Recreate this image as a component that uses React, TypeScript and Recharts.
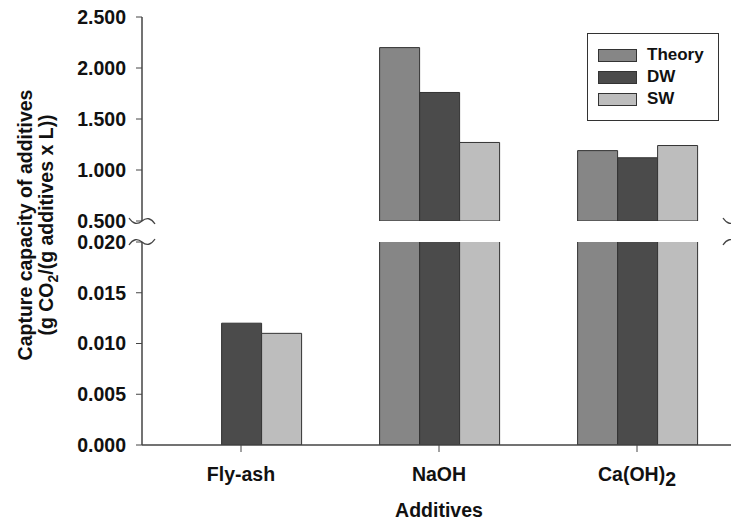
import React from "react";
import { BarChart, Bar, XAxis, YAxis, Legend } from "recharts";

// Chart data
const categories = ["Fly-ash", "NaOH", "Ca(OH)2"];
const theory = [null, 2.2, 1.19];
const dw = [0.012, 1.76, 1.12];
const sw = [0.011, 1.27, 1.24];
const seriesNames = ["Theory", "DW", "SW"];
const upperTicks = [0.5, 1.0, 1.5, 2.0, 2.5];
const lowerTicks = [0, 0.005, 0.01, 0.015, 0.02];

const COLORS = ["#868686", "#4b4b4b", "#bdbdbd"];
const EDGE = "#333333";
const AXIS = "#444444";
const FONT = "'Liberation Sans', Arial, Helvetica, sans-serif";
const BREAK = 0.5;

const rows = categories.map((name, i) => ({
  name,
  Theory: theory[i],
  DW: dw[i],
  SW: sw[i],
}));

// the upper panel only holds what is above the axis break
const above = (v: number | null) => (v != null && v >= BREAK ? v : null);
const upperRows = rows.map(r => ({
  name: r.name,
  Theory: above(r.Theory),
  DW: above(r.DW),
  SW: above(r.SW),
}));

const tickStyle = { fontSize: 19.5, fontWeight: "bold", fill: "#111", fontFamily: FONT };

const CategoryTick = (props: any) => {
  const { x, y, payload } = props;
  const m = /^(.*?)(\d)$/.exec(payload.value);
  return (
    <text x={x} y={y} dy="0.71em" textAnchor="middle" {...tickStyle}>
      {m ? (
        <>
          {m[1]}
          <tspan dy={5}>{m[2]}</tspan>
        </>
      ) : (
        payload.value
      )}
    </text>
  );
};

const renderLegend = () => (
  <div
    style={{
      boxSizing: "border-box",
      width: 132,
      height: 88,
      border: `1.5px solid ${EDGE}`,
      background: "#fff",
      paddingTop: 10,
      fontFamily: FONT,
    }}
  >
    {seriesNames.map((s, i) => (
      <div key={s} style={{ display: "flex", alignItems: "center", height: 22 }}>
        <div
          style={{
            boxSizing: "border-box",
            marginLeft: 10,
            width: 39,
            height: 13,
            background: COLORS[i],
            border: `1.5px solid ${EDGE}`,
          }}
        />
        <span style={{ marginLeft: 10, fontSize: 17, fontWeight: "bold", color: "#111" }}>{s}</span>
      </div>
    ))}
  </div>
);

const bars = seriesNames.map((s, i) => (
  <Bar key={s} dataKey={s} fill={COLORS[i]} stroke={EDGE} strokeWidth={1} isAnimationActive={false} />
));

const wave = (x: number, y: number, flip: number) =>
  `M ${x - 13} ${y - 3 * flip} Q ${x - 7} ${y + 6 * flip} ${x} ${y} Q ${x + 7} ${y - 6 * flip} ${x + 13} ${y + 3 * flip}`;

export default function App() {
  return (
    <div
      style={{
        position: "absolute",
        left: 0,
        top: 0,
        width: 731,
        height: 521,
        overflow: "hidden",
        background: "#fff",
        fontFamily: FONT,
      }}
    >
      <div style={{ position: "absolute", left: 0, top: 0 }}>
        <BarChart
          width={760}
          height={235}
          data={upperRows}
          margin={{ top: 17, right: 24, bottom: 14, left: 0 }}
          barCategoryGap="20%"
          barGap={0}
        >
          <XAxis
            dataKey="name"
            orientation="top"
            height={0}
            tick={false}
            tickLine={false}
            axisLine={{ stroke: AXIS, strokeWidth: 1.5 }}
          />
          <YAxis
            width={142}
            domain={[0.5, 2.5]}
            ticks={upperTicks}
            interval={0}
            allowDataOverflow
            tickFormatter={(v: number) => v.toFixed(3)}
            tick={tickStyle}
            tickSize={6}
            tickMargin={10}
            tickLine={{ stroke: AXIS }}
            axisLine={{ stroke: AXIS, strokeWidth: 1.5 }}
          />
          {bars}
          <Legend
            layout="vertical"
            align="center"
            verticalAlign="middle"
            content={renderLegend}
            wrapperStyle={{ position: "absolute", left: 587, top: 33, width: 132, height: 88 }}
          />
        </BarChart>
      </div>
      <div style={{ position: "absolute", left: 0, top: 221 }}>
        <BarChart
          width={760}
          height={300}
          data={rows}
          margin={{ top: 21, right: 24, bottom: 0, left: 0 }}
          barCategoryGap="20%"
          barGap={0}
        >
          <XAxis
            dataKey="name"
            height={76}
            interval={0}
            tick={<CategoryTick />}
            tickSize={7}
            tickMargin={15}
            tickLine={{ stroke: AXIS }}
            axisLine={{ stroke: AXIS, strokeWidth: 1.5 }}
          />
          <YAxis
            width={142}
            domain={[0, 0.02]}
            ticks={lowerTicks}
            interval={0}
            allowDataOverflow
            tickFormatter={(v: number) => v.toFixed(3)}
            tick={tickStyle}
            tickSize={6}
            tickMargin={10}
            tickLine={{ stroke: AXIS }}
            axisLine={{ stroke: AXIS, strokeWidth: 1.5 }}
          />
          {bars}
        </BarChart>
      </div>
      <svg
        width={731}
        height={521}
        style={{ position: "absolute", left: 0, top: 0, pointerEvents: "none" }}
      >
        {/* axis break marks */}
        {[142, 736].map(x => (
          <g key={x} fill="none" stroke={AXIS} strokeWidth={1.3}>
            <path d={wave(x, 221, 1)} />
            <path d={wave(x, 242, -1)} />
          </g>
        ))}
        <text
          transform="translate(32 225) rotate(-90)"
          textAnchor="middle"
          fontSize={19.5}
          fontWeight="bold"
          fill="#111"
          fontFamily={FONT}
        >
          Capture capacity of additives
        </text>
        <text
          transform="translate(53 225) rotate(-90)"
          textAnchor="middle"
          fontSize={19.5}
          fontWeight="bold"
          fill="#111"
          fontFamily={FONT}
        >
          (g CO
          <tspan dy={5} fontSize={14}>2</tspan>
          <tspan dy={-5}>/(g additives x L))</tspan>
        </text>
        <text x={439} y={517} textAnchor="middle" fontSize={19.5} fontWeight="bold" fill="#111" fontFamily={FONT}>
          Additives
        </text>
      </svg>
    </div>
  );
}
